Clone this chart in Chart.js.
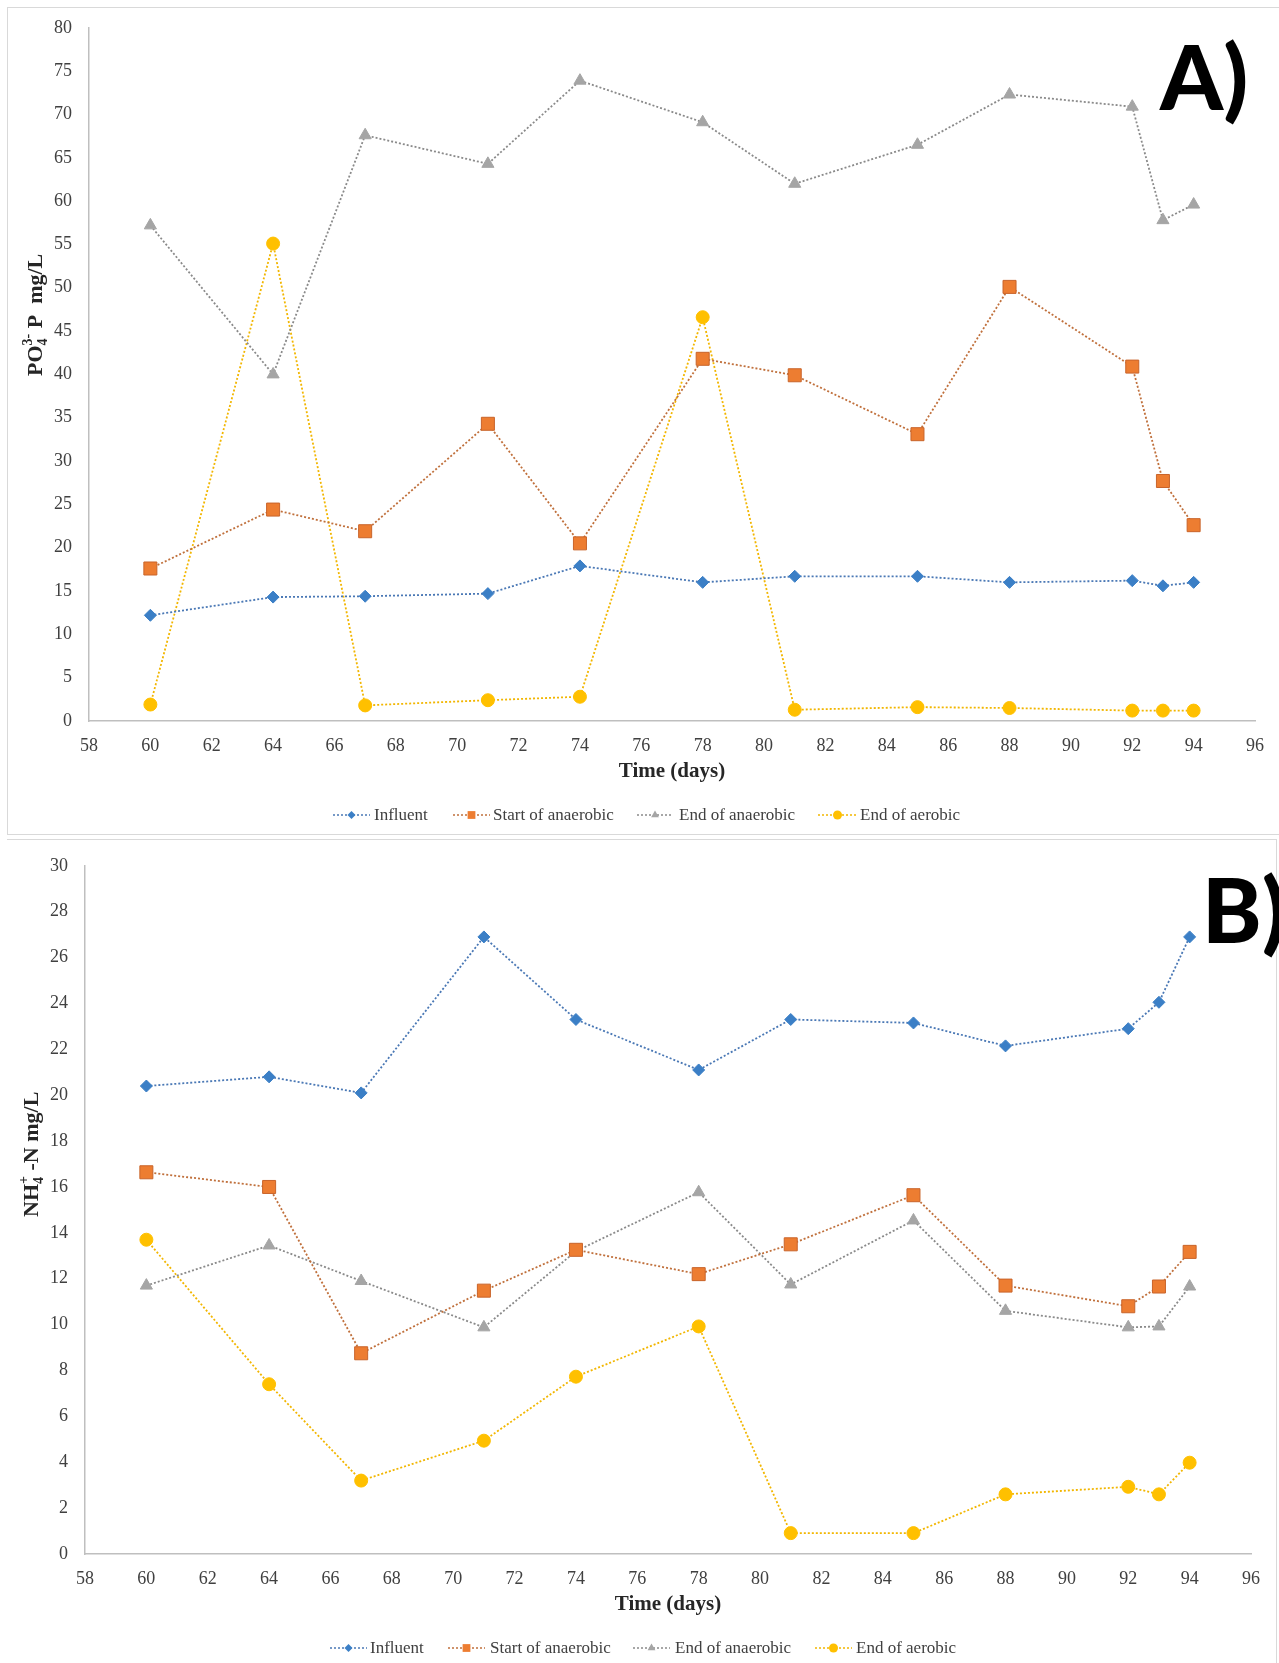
<!DOCTYPE html>
<html>
<head>
<meta charset="utf-8">
<script src="https://cdn.jsdelivr.net/npm/chart.js@4.4.0/dist/chart.umd.min.js"></script>
<style>
    body { margin: 0; background: #fff; width: 1279px; height: 1663px; overflow: hidden; position: relative; }
    canvas { position: absolute; left: 0; }
    #chartA { top: 0; }
    #chartB { top: 838px; }
    .frame { position: absolute; border: 1px solid #d9d9d9; }
</style>
</head>
<body>
<div class="frame" style="left:7px;top:7px;width:1275px;height:826px;border-right:none"></div>
<div class="frame" style="left:7px;top:839px;width:1269px;height:830px;border-left:none"></div>
<canvas id="chartA" width="1279" height="838"></canvas>
<canvas id="chartB" width="1279" height="825"></canvas>
<script>
// --- Data ---
const days = [60, 64, 67, 71, 74, 78, 81, 85, 88, 92, 93, 94];
const seriesNames = ['Influent', 'Start of anaerobic', 'End of anaerobic', 'End of aerobic'];

// A) PO4-P mg/L
const poInfluent = [12.2, 14.3, 14.4, 14.7, 17.9, 16.0, 16.7, 16.7, 16.0, 16.2, 15.6, 16.0];
const poStartAnaerobic = [17.6, 24.4, 21.9, 34.3, 20.5, 41.8, 39.9, 33.1, 50.1, 40.9, 27.7, 22.6];
const poEndAnaerobic = [57.2, 40.0, 67.6, 64.3, 73.9, 69.1, 62.0, 66.5, 72.3, 70.9, 57.8, 59.6];
const poEndAerobic = [1.9, 55.1, 1.8, 2.4, 2.8, 46.6, 1.3, 1.6, 1.5, 1.2, 1.2, 1.2];

// B) NH4-N mg/L
const nhInfluent = [20.4, 20.8, 20.1, 26.9, 23.3, 21.1, 23.3, 23.15, 22.15, 22.9, 24.05, 26.9];
const nhStartAnaerobic = [16.64, 16.0, 8.75, 11.48, 13.26, 12.2, 13.5, 15.64, 11.7, 10.8, 11.66, 13.17];
const nhEndAnaerobic = [11.7, 13.45, 11.9, 9.88, 13.2, 15.77, 11.75, 14.54, 10.6, 9.88, 9.92, 11.66];
const nhEndAerobic = [13.7, 7.4, 3.2, 4.94, 7.73, 9.92, 0.91, 0.91, 2.6, 2.93, 2.6, 3.98];

// axis ranges / ticks
const xMin = 58, xMax = 96, xStep = 2;
const poYMax = 80, poYStep = 5;
const nhYMax = 30, nhYStep = 2;

// --- Styles ---
const SERIF = '"Liberation Serif", "Times New Roman", serif';
const seriesStyles = [
    { point: 'rectRot', color: '#3b7fc6', border: '#3b7fc6', line: '#4a78b5', r: 6, legendR: 4 },
    { point: 'rect', color: '#ed7d31', border: '#c9642a', line: '#c0703c', r: 9.2, legendR: 5.5 },
    { point: 'triangle', color: '#a5a5a5', border: '#a5a5a5', line: '#8a8a8a', r: 7, legendR: 4.5 },
    { point: 'circle', color: '#ffc000', border: '#ffc000', line: '#f2b600', r: 6.5, legendR: 4.5 }
];

function makeDatasets(seriesValues) {
    return seriesValues.map((values, i) => {
        const s = seriesStyles[i];
        return {
            label: seriesNames[i],
            data: days.map((d, j) => ({ x: d, y: values[j] })),
            showLine: true,
            borderColor: s.line,
            borderWidth: 1.8,
            borderDash: [2, 2],
            pointStyle: s.point,
            pointRadius: s.r,
            pointHoverRadius: s.r,
            pointBackgroundColor: s.color,
            pointBorderColor: s.border,
            pointBorderWidth: 1
        };
    });
}

// Titles, panel letter and Excel-like legend
const panelDecor = {
    id: 'panelDecor',
    afterDraw(chart, args, opts) {
        const ctx = chart.ctx;
        ctx.save();

        // x title
        ctx.font = 'bold 21px ' + SERIF;
        ctx.fillStyle = '#262626';
        ctx.textAlign = 'center';
        ctx.textBaseline = 'middle';
        ctx.fillText('Time (days)', opts.xTitle[0], opts.xTitle[1]);

        // y title with sub/superscript
        ctx.save();
        ctx.translate(opts.yTitle[0], opts.yTitle[1]);
        ctx.rotate(-Math.PI / 2);
        ctx.textAlign = 'left';
        ctx.textBaseline = 'alphabetic';
        let x = 0;
        opts.yTitleParts.forEach(p => {
            if (p.t) {
                ctx.font = 'bold 22px ' + SERIF;
                ctx.fillText(p.t, x, 0);
                x += ctx.measureText(p.t).width;
            } else {
                ctx.font = 'bold 14px ' + SERIF;
                ctx.fillText(p.sub, x, 5);
                ctx.fillText(p.sup, x, -10);
                x += Math.max(ctx.measureText(p.sub).width, ctx.measureText(p.sup).width);
            }
        });
        ctx.restore();

        // panel letter
        ctx.font = '900 90px Lato, "Open Sans", sans-serif';
        ctx.fillStyle = '#000';
        ctx.textAlign = 'left';
        ctx.textBaseline = 'alphabetic';
        ctx.fillText(opts.letter, opts.letterPos[0], opts.letterPos[1]);

        // legend
        const ly = opts.legendY;
        opts.legendItems.forEach((item, i) => {
            const s = seriesStyles[i];
            ctx.save();
            ctx.strokeStyle = s.line;
            ctx.lineWidth = 1.6;
            ctx.setLineDash([2, 2]);
            ctx.beginPath();
            ctx.moveTo(item[0], ly);
            ctx.lineTo(item[1], ly);
            ctx.stroke();
            ctx.restore();
            ctx.fillStyle = s.color;
            ctx.strokeStyle = s.border;
            Chart.helpers.drawPoint(ctx, { pointStyle: s.point, radius: s.legendR, rotation: 0, borderWidth: 0 },
                (item[0] + item[1]) / 2, ly);
            ctx.font = '17px ' + SERIF;
            ctx.fillStyle = '#404040';
            ctx.textAlign = 'left';
            ctx.textBaseline = 'middle';
            ctx.fillText(seriesNames[i], item[2], ly + 1);
        });
        ctx.restore();
    }
};

function makeChart(id, seriesValues, yMax, yStep, box, decor) {
    const tickFont = { family: SERIF, size: 18 };
    return new Chart(document.getElementById(id), {
        type: 'scatter',
        data: { datasets: makeDatasets(seriesValues) },
        options: {
            responsive: false,
            animation: false,
            devicePixelRatio: 1,
            layout: { padding: { left: 0, right: box.padRight, top: box.padTop, bottom: 0 } },
            scales: {
                x: {
                    type: 'linear',
                    min: xMin, max: xMax,
                    grid: { display: false, drawTicks: false },
                    border: { display: true, color: '#bfbfbf', width: 1.5 },
                    ticks: { stepSize: xStep, font: tickFont, color: '#404040', padding: 14 },
                    afterFit: s => { s.height = box.xHeight; }
                },
                y: {
                    min: 0, max: yMax,
                    grid: { display: false, drawTicks: false },
                    border: { display: true, color: '#bfbfbf', width: 1.5 },
                    ticks: { stepSize: yStep, font: tickFont, color: '#404040', padding: 17 },
                    afterFit: s => { s.width = box.yWidth; }
                }
            },
            plugins: {
                legend: { display: false },
                tooltip: { enabled: false },
                panelDecor: decor
            }
        },
        plugins: [panelDecor]
    });
}

// --- Init ---
makeChart('chartA', [poInfluent, poStartAnaerobic, poEndAnaerobic, poEndAerobic], poYMax, poYStep,
    { padRight: 24, padTop: 25, xHeight: 117, yWidth: 89 },
    {
        xTitle: [672, 772],
        yTitle: [42, 376],
        yTitleParts: [{ t: 'PO' }, { sub: '4', sup: '3-' }, { t: ' P  mg/L' }],
        letter: 'A)', letterPos: [1160, 110],
        legendY: 815,
        legendItems: [[333, 370, 374], [453, 490, 493], [637, 673, 679], [818, 857, 860]]
    });

makeChart('chartB', [nhInfluent, nhStartAnaerobic, nhEndAnaerobic, nhEndAerobic], nhYMax, nhYStep,
    { padRight: 28, padTop: 20, xHeight: 109, yWidth: 85 },
    {
        xTitle: [668, 767],
        yTitle: [38, 379],
        yTitleParts: [{ t: 'NH' }, { sub: '4', sup: '+' }, { t: ' -N mg/L' }],
        letter: 'B)', letterPos: [1202, 105],
        legendY: 810,
        legendItems: [[330, 367, 370], [448, 485, 490], [633, 670, 675], [815, 852, 856]]
    });
</script>
</body>
</html>
